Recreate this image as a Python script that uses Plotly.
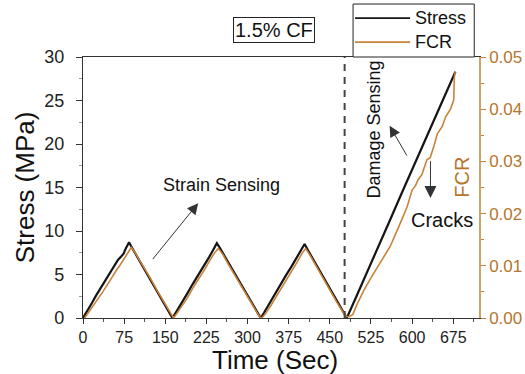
import plotly.graph_objects as go

# ---------------- data ----------------
stress_time = [0, 8, 16, 24, 32, 40, 48, 56, 64, 70, 74, 78, 84,
               90, 100, 110, 120, 130, 140, 150, 158, 163,
               170, 180, 190, 200, 210, 220, 230, 238, 244,
               250, 260, 270, 280, 290, 300, 310, 318, 324,
               330, 340, 350, 360, 370, 380, 390, 398, 404,
               410, 420, 430, 440, 450, 460, 470, 476, 481,
               500, 520, 540, 560, 580, 600, 620, 640, 660, 679]
stress_mpa = [0, 0.8, 1.7, 2.6, 3.4, 4.2, 5.0, 5.9, 6.7, 7.1, 7.4, 8.0, 8.7,
              8.0, 6.9, 5.8, 4.7, 3.6, 2.5, 1.4, 0.55, 0.0,
              0.7, 1.7, 2.8, 3.9, 4.9, 5.9, 7.0, 7.9, 8.6,
              8.0, 6.9, 5.8, 4.7, 3.7, 2.6, 1.5, 0.6, 0.0,
              0.6, 1.7, 2.8, 3.9, 4.9, 5.9, 7.0, 7.8, 8.5,
              7.8, 6.7, 5.6, 4.5, 3.4, 2.3, 1.2, 0.5, 0.0,
              2.7, 5.5, 8.4, 11.3, 14.2, 17.0, 19.9, 22.7, 25.6, 28.3]

fcr_time = [3, 12, 20, 28, 36, 44, 52, 60, 68, 76, 82, 88,
            95, 105, 115, 125, 135, 145, 155, 161, 165,
            170, 180, 190, 200, 210, 220, 230, 240, 247,
            255, 265, 275, 285, 295, 305, 315, 322, 326,
            332, 342, 352, 362, 372, 382, 392, 400, 406,
            413, 423, 433, 443, 453, 463, 473, 480, 486, 492,
            500, 512, 525, 540, 560, 575, 591, 600, 606, 611, 618,
            627, 633, 640, 646, 655, 661, 670, 676, 677, 679]
fcr_value = [0.0, 0.0013, 0.0025, 0.0038, 0.0050, 0.0063, 0.0077, 0.0090, 0.0102, 0.0115, 0.0127, 0.0135,
             0.0125, 0.0108, 0.0090, 0.0072, 0.0053, 0.0035, 0.0017, 0.0005, 0.0,
             0.0007, 0.0022, 0.0038, 0.0057, 0.0073, 0.0090, 0.0108, 0.0125, 0.0133,
             0.0122, 0.0103, 0.0085, 0.0067, 0.0050, 0.0032, 0.0013, 0.0002, 0.0,
             0.0007, 0.0023, 0.0040, 0.0058, 0.0075, 0.0092, 0.0110, 0.0125, 0.0133,
             0.0122, 0.0103, 0.0085, 0.0067, 0.0048, 0.0030, 0.0013, 0.0003, 0.0003, 0.0007,
             0.0027, 0.0053, 0.0077, 0.0103, 0.0137, 0.0173, 0.0213, 0.0245, 0.0253, 0.0265, 0.0275,
             0.0303, 0.0307, 0.0330, 0.0353, 0.0367, 0.0385, 0.0400, 0.0418, 0.0462, 0.0472]

damage_onset = 477  # s, dashed separator
x_ticks = [0, 75, 150, 225, 300, 375, 450, 525, 600, 675]
y_ticks = [0, 5, 10, 15, 20, 25, 30]
y2_ticks = [0.00, 0.01, 0.02, 0.03, 0.04, 0.05]
y2_labels = ["0.00", "0.01", "0.02", "0.03", "0.04", "0.05"]

BLACK = "#151515"
ORANGE = "#C8823A"
ORANGE_TXT = "#B5762C"
FONT = "Liberation Sans, Arial, sans-serif"

fig = go.Figure()
fig.add_trace(go.Scatter(x=stress_time, y=stress_mpa, mode="lines", name="Stress",
                         line=dict(color=BLACK, width=2.2), showlegend=False))
fig.add_trace(go.Scatter(x=fcr_time, y=fcr_value, mode="lines", name="FCR", yaxis="y2",
                         line=dict(color=ORANGE, width=1.6), showlegend=False))

fig.update_layout(
    width=525, height=374,
    margin=dict(l=83, r=46, t=57, b=56),
    paper_bgcolor="white", plot_bgcolor="white",
    font=dict(family=FONT, color="#222"),
    xaxis=dict(range=[0, 722], tickvals=x_ticks, ticks="outside", ticklen=5, automargin=False,
               tickcolor="#333", showline=True, linecolor="#333", linewidth=1.2,
               mirror=True, showgrid=False, zeroline=False,
               minor=dict(dtick=37.5, tick0=0, ticks="outside", ticklen=3, tickcolor="#555"),
               tickfont=dict(size=16, color="#222")),
    xaxis2=dict(range=[0, 10], dtick=1, overlaying="x", side="top", anchor="y", automargin=False,
                ticks="inside", ticklen=4, tickcolor="#333", showticklabels=False,
                showgrid=False, zeroline=False, showline=False),
    yaxis=dict(range=[0, 30], tickvals=y_ticks, ticks="outside", ticklen=6, automargin=False,
               tickcolor="#333", showline=True, linecolor="#333", linewidth=1.2,
               showgrid=False, zeroline=False, ticklabelstandoff=8,
               minor=dict(dtick=2.5, tick0=0, ticks="outside", ticklen=3, tickcolor="#999"),
               tickfont=dict(size=18, color="#222")),
    yaxis2=dict(range=[0, 0.05], tickvals=y2_ticks, ticktext=y2_labels, overlaying="y",
                side="right", ticks="outside", ticklen=5, tickcolor=ORANGE, automargin=False,
                showline=True, linecolor="#C9A468", linewidth=1.5,
                showgrid=False, zeroline=False,
                minor=dict(dtick=0.005, tick0=0, ticks="outside", ticklen=3, tickcolor=ORANGE),
                tickfont=dict(size=17, color=ORANGE_TXT)),
)

# axis titles
fig.add_annotation(xref="paper", yref="paper", x=-0.147, y=0.5, text="Stress (MPa)",
                   showarrow=False, textangle=-90, xanchor="center", yanchor="middle",
                   font=dict(size=26, color="#111"))
fig.add_annotation(xref="paper", yref="paper", x=0.485, y=-0.162, text="Time (Sec)",
                   showarrow=False, xanchor="center", yanchor="middle",
                   font=dict(size=26, color="#111"))

# dashed separator between strain sensing and damage sensing
fig.add_shape(type="line", xref="x", yref="paper", x0=damage_onset, x1=damage_onset,
              y0=0, y1=1, line=dict(color="#444", width=2, dash="7px,6px"))

# manual legend box above the plot
fig.add_shape(type="rect", xref="paper", yref="paper", x0=0.682, x1=0.988, y0=1.0, y1=1.203,
              line=dict(color="#222", width=1), fillcolor="white", layer="above")
fig.add_shape(type="line", xref="paper", yref="paper", x0=0.687, x1=0.826, y0=1.149, y1=1.149,
              line=dict(color=BLACK, width=1.6))
fig.add_shape(type="line", xref="paper", yref="paper", x0=0.687, x1=0.826, y0=1.057, y1=1.057,
              line=dict(color=ORANGE, width=1.6))
fig.add_annotation(xref="paper", yref="paper", x=0.834, y=1.149, text="Stress", showarrow=False,
                   xanchor="left", yanchor="middle", font=dict(size=18, color="#111"))
fig.add_annotation(xref="paper", yref="paper", x=0.834, y=1.057, text="FCR", showarrow=False,
                   xanchor="left", yanchor="middle", font=dict(size=18, color="#111"))

# title box
fig.add_annotation(xref="paper", yref="paper", x=0.482, y=1.103, text="1.5% CF", showarrow=False,
                   xanchor="center", yanchor="middle",
                   font=dict(size=20, color="#111"), bordercolor="#222", borderwidth=1,
                   borderpad=1, bgcolor="white")

# FCR axis label inside plot, near right axis
fig.add_annotation(xref="paper", yref="paper", x=0.956, y=0.54, text="FCR", showarrow=False,
                   textangle=-90, xanchor="center", yanchor="middle",
                   font=dict(size=20, color=ORANGE_TXT))

# Strain sensing text and arrow
fig.add_annotation(x=252, y=15.3, text="Strain Sensing", showarrow=False,
                   xanchor="center", yanchor="middle", font=dict(size=18, color="#111"))
fig.add_annotation(x=210, y=13.2, ax=125, ay=6.6, axref="x", ayref="y", text="",
                   showarrow=True, arrowhead=2, arrowsize=2.2, arrowwidth=1, arrowcolor="#333")

# Damage sensing text and arrow
fig.add_annotation(x=531, y=21.7, text="Damage Sensing", showarrow=False, textangle=-90,
                   xanchor="center", yanchor="middle", font=dict(size=18, color="#111"))
fig.add_annotation(x=559, y=22.1, ax=592, ay=18.5, axref="x", ayref="y", text="",
                   showarrow=True, arrowhead=2, arrowsize=2.2, arrowwidth=1, arrowcolor="#333")

# Cracks text and arrow
fig.add_annotation(x=655, y=11.3, text="Cracks", showarrow=False,
                   xanchor="center", yanchor="middle", font=dict(size=20, color="#111"))
fig.add_annotation(x=633.5, y=13.8, ax=633.5, ay=18.2, axref="x", ayref="y", text="",
                   showarrow=True, arrowhead=2, arrowsize=2.4, arrowwidth=1, arrowcolor="#333")

fig.write_html("out.html")
